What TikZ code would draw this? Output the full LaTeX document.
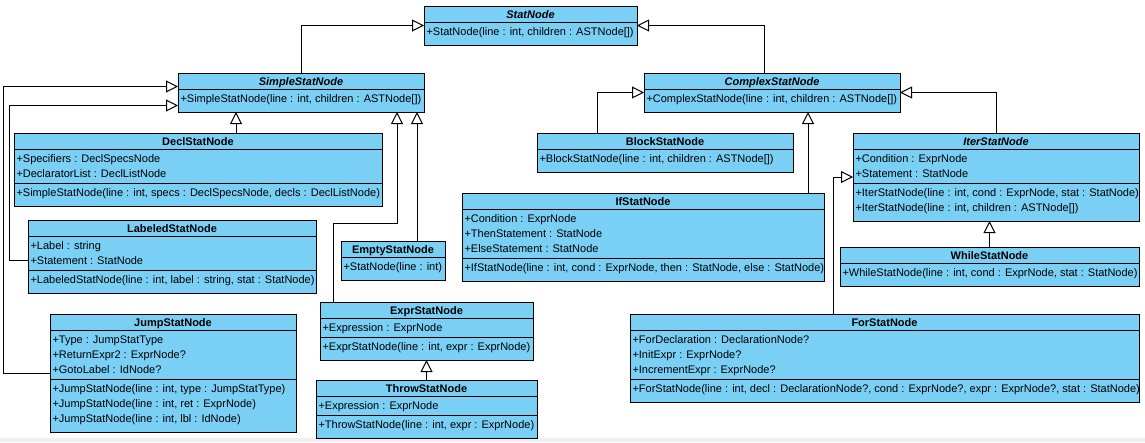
\documentclass[tikz,border=0pt]{standalone}
\usepackage{fontspec}
\setmainfont{Liberation Sans}
\usetikzlibrary{arrows.meta}
\definecolor{classfill}{RGB}{122,207,245}
\tikzset{
  classbox/.style={draw, fill=classfill, inner sep=0, outer sep=0},
  rowtext/.style={anchor=north west, inner sep=0, align=left, font=\fontsize{11}{15}\selectfont},
  inherit/.style={-{Triangle[open,length=12pt,width=12pt]}},
}
% name, x, y, width, title, #attributes, attributes, #methods, methods
\newcommand{\umlclass}[9]{%
  \pgfmathsetmacro{\attrh}{ifthenelse(#6>0,#6*15+4,0)}%
  \pgfmathsetmacro{\classh}{16+\attrh+#8*15+8}%
  \node[classbox, minimum width=#4pt, minimum height=\classh pt, anchor=north west] (#1) at (#2,#3) {};
  \node[anchor=base, inner sep=0, font=\bfseries\fontsize{11}{15}\selectfont] (#1-t) at ({#2+#4/2},{#3+12}) {#5};
  \draw (#1.north west) ++(0,16) -- ++(#4,0);
  \ifnum#6>0
    \node[rowtext] (#1-a) at ({#2+2},{#3+18}) {\rule{0pt}{11pt}#7};
    \draw (#1.north west) ++(0,16+\attrh) -- ++(#4,0);
  \fi
  \node[rowtext] (#1-m) at ({#2+2},{#3+18+\attrh}) {\rule{0pt}{11pt}#9};
}

\begin{document}
\begin{tikzpicture}[x=1pt, y=-1pt, line width=1pt]
  \useasboundingbox (0,0) rectangle (1145,442);
  \fill[white] (0,0) rectangle (1145,442);
  \fill[black!6] (0,438) rectangle (1145,442);

  \umlclass{stat}{424}{6}{213}{\itshape StatNode}{0}{}{1}{+StatNode(line : int, children : ASTNode[])}
  \umlclass{simple}{178}{73}{246}{\itshape SimpleStatNode}{0}{}{1}{+SimpleStatNode(line : int, children : ASTNode[])}
  \umlclass{complex}{644}{73}{256}{\itshape ComplexStatNode}{0}{}{1}{+ComplexStatNode(line : int, children : ASTNode[])}

  \umlclass{decl}{14}{133}{368}{DeclStatNode}{2}{+Specifiers : DeclSpecsNode\\+DeclaratorList : DeclListNode}{1}{+SimpleStatNode(line : int, specs : DeclSpecsNode, decls : DeclListNode)}
  \umlclass{labeled}{28}{220}{288}{LabeledStatNode}{2}{+Label : string\\+Statement : StatNode}{1}{+LabeledStatNode(line : int, label : string, stat : StatNode)}
  \umlclass{empty}{341}{241}{104}{EmptyStatNode}{0}{}{1}{+StatNode(line : int)}
  \umlclass{jump}{50}{314}{246}{JumpStatNode}{3}{+Type : JumpStatType\\+ReturnExpr2 : ExprNode?\\+GotoLabel : IdNode?}{3}{+JumpStatNode(line : int, type : JumpStatType)\\+JumpStatNode(line : int, ret : ExprNode)\\+JumpStatNode(line : int, lbl : IdNode)}
  \umlclass{exprst}{320}{302}{213}{ExprStatNode}{1}{+Expression : ExprNode}{1}{+ExprStatNode(line : int, expr : ExprNode)}
  \umlclass{throw}{316}{380}{221}{ThrowStatNode}{1}{+Expression : ExprNode}{1}{+ThrowStatNode(line : int, expr : ExprNode)}

  \umlclass{block}{537}{133}{256}{BlockStatNode}{0}{}{1}{+BlockStatNode(line : int, children : ASTNode[])}
  \umlclass{ifst}{462}{193}{362}{IfStatNode}{3}{+Condition : ExprNode\\+ThenStatement : StatNode\\+ElseStatement : StatNode}{1}{+IfStatNode(line : int, cond : ExprNode, then : StatNode, else : StatNode)}
  \umlclass{iter}{853}{133}{286}{\itshape IterStatNode}{2}{+Condition : ExprNode\\+Statement : StatNode}{2}{+IterStatNode(line : int, cond : ExprNode, stat : StatNode)\\+IterStatNode(line : int, children : ASTNode[])}
  \umlclass{while}{840}{247}{299}{WhileStatNode}{0}{}{1}{+WhileStatNode(line : int, cond : ExprNode, stat : StatNode)}
  \umlclass{forst}{630}{314}{509}{ForStatNode}{3}{+ForDeclaration : DeclarationNode?\\+InitExpr : ExprNode?\\+IncrementExpr : ExprNode?}{1}{+ForStatNode(line : int, decl : DeclarationNode?, cond : ExprNode?, expr : ExprNode?, stat : StatNode)}

  \draw[inherit] (simple.north) |- (stat.west);
  \draw[inherit] ([xshift=-8pt]complex.north) |- (stat.east);
  \draw[inherit] (iter.north) |- (complex.east);
  \draw[inherit] ([xshift=-68pt]block.north) |- (complex.west);
  \draw[inherit] ([xshift=-16pt]ifst.north east) coordinate (i1) -- (i1 |- complex.south);
  \draw[inherit] ([xshift=38pt]decl.north) coordinate (d1) -- (d1 |- simple.south);
  \draw[inherit] ([xshift=24pt]empty.north) coordinate (m1) -- (m1 |- simple.south);
  \draw[inherit] ([xshift=-93.5pt]exprst.north) |- ++(64,-79) coordinate (e1) -- (e1 |- simple.south);
  \draw[inherit] ([yshift=-4pt]labeled.west) -- ++(-19,0) |- ([yshift=-13pt]simple.west);
  \draw[inherit] (jump.west) -- ++(-47,0) |- ([yshift=6pt]simple.west);
  \draw[inherit] (throw.north) -- (throw.north |- exprst.south);
  \draw[inherit] (while.north) -- (while.north |- iter.south);
  \draw[inherit] ([xshift=-51pt]forst.north) |- (iter.west);
\end{tikzpicture}
\end{document}
